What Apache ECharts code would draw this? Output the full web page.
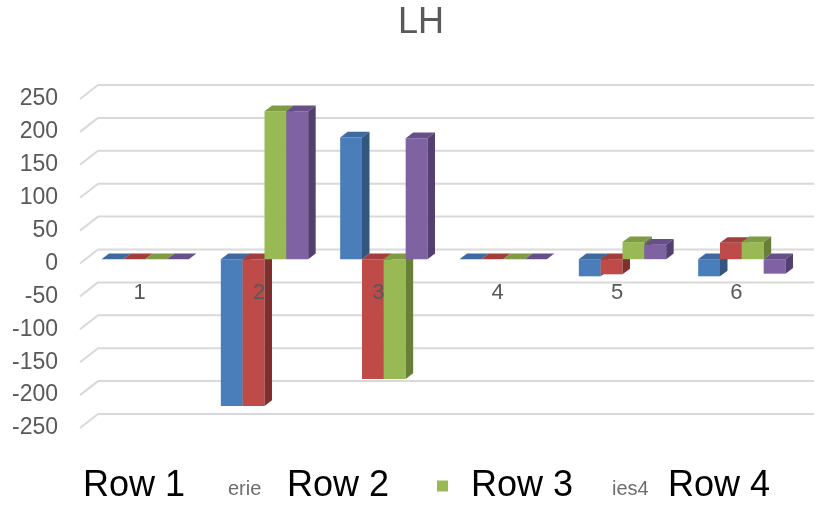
<!DOCTYPE html>
<html>
<head>
<meta charset="utf-8">
<script src="https://cdn.jsdelivr.net/npm/echarts@6/dist/echarts.min.js"></script>
<style>
  html, body { margin: 0; padding: 0; background: #ffffff; }
  #chart { width: 820px; height: 505px; }
</style>
</head>
<body>
<div id="chart"></div>
<script>
// Categories and values of the four rows
const categories = ['1', '2', '3', '4', '5', '6'];
const seriesNames = ['Row 1', 'Row 2', 'Row 3', 'Row 4'];
const row1 = [0, -223, 185, 0, -26, -26];
const row2 = [0, -223, -182, 0, -23, 25];
const row3 = [0, 225, -182, 0, 26, 26];
const row4 = [0, 225, 184, 0, 22, -22];
const yTicks = [-250, -200, -150, -100, -50, 0, 50, 100, 150, 200, 250];

const FONT = '"Liberation Sans", Arial, sans-serif';

// Face colours for each row: front, top, side
const palette = [
  { front: '#4a7ebb', top: '#3f6a9f', side: '#33567f' },
  { front: '#be4b48', top: '#a23f3c', side: '#7f302e' },
  { front: '#98b954', top: '#7f9c45', side: '#687f38' },
  { front: '#7e62a1', top: '#67508a', side: '#52406e' }
];

// Pseudo-3D geometry (oblique projection)
const WALL_DX = 18, WALL_DY = -14;     // front plane -> back wall
const PLANE_DX = 5.5, PLANE_DY = -4.3; // front plane -> bar front faces
const DEPTH_DX = 7.5, DEPTH_DY = -5.6; // bar depth
const BAR_FRAC = 0.183;                // bar width as a share of a category

// Plot box of the front plane
const GRID = { left: 80, right: 24, top: 99, bottom: 77 };
const PLOT_H = 505 - GRID.top - GRID.bottom;
// Category labels sit beside the zero line rather than the bottom edge
const ZERO_SHIFT = -PLOT_H * (0 - (-250)) / (250 - (-250));

function wallRender(params, api) {
  const cs = params.coordSys;
  const y = api.coord([0, api.value(1)])[1];
  const x0 = cs.x, x1 = cs.x + cs.width;
  const style = { stroke: '#d9d9d9', lineWidth: 2 };
  return {
    type: 'group',
    children: [
      { type: 'line', shape: { x1: x0, y1: y, x2: x0 + WALL_DX, y2: y + WALL_DY }, style: style },
      { type: 'line', shape: { x1: x0 + WALL_DX, y1: y + WALL_DY, x2: x1 + WALL_DX, y2: y + WALL_DY }, style: style }
    ]
  };
}

function barRender(sIdx) {
  const c = palette[sIdx];
  return function (params, api) {
    const ci = api.value(0), v = api.value(1);
    const base = api.coord([ci, 0]);
    const tip = api.coord([ci, v]);
    const bw = api.size([1, 0])[0] * BAR_FRAC;
    const x = base[0] - 2 * bw + sIdx * bw + PLANE_DX;
    const yA = Math.min(base[1], tip[1]) + PLANE_DY;
    const yB = Math.max(base[1], tip[1]) + PLANE_DY;
    const dx = DEPTH_DX, dy = DEPTH_DY;
    return {
      type: 'group',
      children: [
        { type: 'rect', shape: { x: x, y: yA, width: bw, height: yB - yA }, style: { fill: c.front } },
        { type: 'polygon', shape: { points: [[x, yA], [x + dx, yA + dy], [x + bw + dx, yA + dy], [x + bw, yA]] }, style: { fill: c.top } },
        { type: 'polygon', shape: { points: [[x + bw, yA], [x + bw + dx, yA + dy], [x + bw + dx, yB + dy], [x + bw, yB]] }, style: { fill: c.side } }
      ]
    };
  };
}

const rows = [row1, row2, row3, row4];

const barSeries = rows.map(function (vals, i) {
  return {
    type: 'custom',
    name: seriesNames[i],
    renderItem: barRender(i),
    itemStyle: { color: palette[i].front },
    data: vals.map(function (v, k) { return [k, v]; }),
    z: 3 + i
  };
});

function legendFor(idx, left, withIcon) {
  const l = {
    data: [{ name: seriesNames[idx], icon: withIcon ? 'rect' : 'none' }],
    left: left,
    top: 468,
    padding: 0,
    selectedMode: false,
    itemWidth: withIcon ? 11 : 0,
    itemHeight: 11,
    textStyle: { fontSize: 36, color: '#000000', fontFamily: FONT }
  };
  if (withIcon) l.textStyle.padding = [0, 0, 0, 18];
  return l;
}

const chart = echarts.init(document.getElementById('chart'), null, { renderer: 'canvas' });
chart.setOption({
  animation: false,
  backgroundColor: '#ffffff',
  title: {
    text: 'LH',
    left: 393,
    top: 0,
    textStyle: { fontSize: 36, fontWeight: 'normal', color: '#595959', fontFamily: FONT }
  },
  grid: { left: GRID.left, right: GRID.right, top: GRID.top, bottom: GRID.bottom, containLabel: false },
  xAxis: {
    type: 'category',
    data: categories,
    offset: ZERO_SHIFT,
    z: 20,
    axisLine: { show: false, onZero: false },
    axisTick: { show: false },
    axisLabel: { fontSize: 22, color: '#595959', margin: 18, fontFamily: FONT },
    splitLine: { show: false }
  },
  yAxis: {
    type: 'value',
    min: -250,
    max: 250,
    interval: 50,
    axisLine: { show: false },
    axisTick: { show: false },
    splitLine: { show: false },
    axisLabel: { fontSize: 23, color: '#595959', margin: 22, fontFamily: FONT }
  },
  legend: [
    legendFor(0, 78, false),
    legendFor(1, 282, false),
    legendFor(2, 437, true),
    legendFor(3, 663, false)
  ],
  graphic: [
    { type: 'text', left: 228, top: 479, style: { text: 'erie', font: '20px ' + FONT, fill: '#6d6d6d' } },
    { type: 'text', left: 612, top: 479, style: { text: 'ies4', font: '20px ' + FONT, fill: '#6d6d6d' } }
  ],
  series: [
    {
      type: 'custom',
      name: 'wall',
      renderItem: wallRender,
      data: yTicks.map(function (v) { return [0, v]; }),
      z: 1,
      silent: true
    }
  ].concat(barSeries)
});
</script>
</body>
</html>
